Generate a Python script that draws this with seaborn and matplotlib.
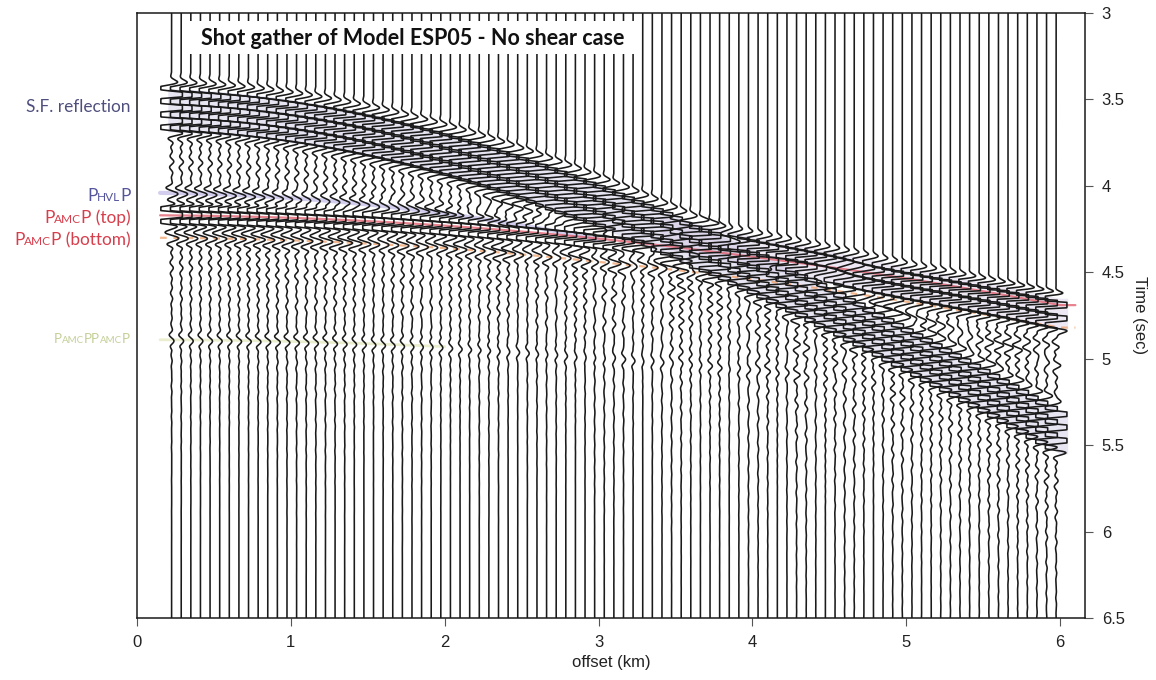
import numpy as np
import pandas as pd
import matplotlib
matplotlib.use("Agg")
import matplotlib.pyplot as plt
from matplotlib.patches import Rectangle
import seaborn as sns

# ---------------------------------------------------------------------------
# Picked arrivals: centre time (s) and relative amplitude at each offset (km)
# ---------------------------------------------------------------------------
pick_offset_km = [0.0, 1.0, 2.0, 3.0, 4.0, 5.0, 6.0]

sf_time_s = [3.555, 3.62, 3.81, 4.11, 4.49, 4.94, 5.42]       # seafloor reflection
sf_amp = [2.6, 2.6, 2.6, 2.5, 2.4, 2.3, 2.3]

refr_time_s = [3.67, 3.85, 4.03, 4.21, 4.39, 4.57, 4.75]     # crustal refraction
refr_amp = [0.0, 0.0, 0.0, 0.8, 2.2, 2.4, 2.5]

hvl_time_s = [4.04, 4.07, 4.16, 4.31, 4.51, 4.75, 5.03]      # P_HVL P
hvl_amp = [0.50, 0.50, 0.45, 0.40, 0.35, 0.35, 0.35]

amc_top_time_s = [4.17, 4.185, 4.23, 4.305, 4.41, 4.535, 4.69]  # P_AMC P (top)
amc_top_amp = [2.2, 2.1, 1.9, 1.7, 1.6, 1.6, 1.6]

amc_bot_time_s = [4.30, 4.315, 4.36, 4.44, 4.54, 4.67, 4.82]   # P_AMC P (bottom)
amc_bot_amp = [0.55, 0.55, 0.50, 0.45, 0.45, 0.45, 0.45]

amc_mult_time_s = [4.89, 4.90, 4.93, 4.99, 5.06, 5.15, 5.26]   # P_AMC PP_AMC P
amc_mult_amp = [0.22, 0.22, 0.18, 0.15, 0.12, 0.10, 0.10]

# receiver offsets of the gather
trace_offset_km = np.arange(0.225, 6.03, 0.0625)

x_ticks = [0, 1, 2, 3, 4, 5, 6]
t_ticks = [3, 3.5, 4, 4.5, 5, 5.5, 6, 6.5]

title_text = "Shot gather of Model ESP05 - No shear case"

# ---------------------------------------------------------------------------
FIG_W, FIG_H = 1156, 680
sns.set_theme(style="white")
plt.rcParams["font.family"] = ["Liberation Sans", "DejaVu Sans"]

fig = plt.figure(figsize=(FIG_W / 100, FIG_H / 100), dpi=100)
ax = fig.add_axes([137 / FIG_W, 1 - 618 / FIG_H, 948 / FIG_W, 605 / FIG_H])

pick_x = np.asarray(pick_offset_km)


def moveout(times, x):
    """Travel time along an arrival, interpolated in x^2 - t^2 space."""
    t2 = np.interp(np.square(x), np.square(pick_x), np.square(times))
    return np.sqrt(t2)


def amplitude(amps, x):
    return np.interp(x, pick_x, amps)


def wavelet(tau, width):
    """Flat-topped 13 Hz burst (first swing negative) plus a weak ringing tail."""
    env = np.exp(-(tau / width) ** 4)
    main = -np.sin(2 * np.pi * 13.0 * (tau + width)) * env
    after = np.clip(tau, 0, None)
    ramp = 1 - np.exp(-after / 0.06)
    tail = (0.13 * np.exp(-after / 0.30) * np.sin(2 * np.pi * 17.0 * after + 0.6)
            + 0.06 * np.exp(-after / 0.55) * np.sin(2 * np.pi * 11.0 * after)) * ramp
    return main + np.where(tau > 0, tail, 0.0)


arrivals = [
    (sf_time_s, sf_amp, 0.145),
    (refr_time_s, refr_amp, 0.11),
    (hvl_time_s, hvl_amp, 0.05),
    (amc_top_time_s, amc_top_amp, 0.06),
    (amc_bot_time_s, amc_bot_amp, 0.05),
    (amc_mult_time_s, amc_mult_amp, 0.05),
]

t = np.arange(3.0, 6.5001, 0.0015)
gain_km = 0.07      # horizontal excursion per unit amplitude
clip_level = 1.0    # wiggles are clipped at one unit

frames = []
for i, x0 in enumerate(trace_offset_km):
    s = np.zeros_like(t)
    for times, amps, width in arrivals:
        a = amplitude(amps, x0)
        if a <= 0:
            continue
        s += a * wavelet(t - moveout(times, x0), width)
    s = np.clip(s, -clip_level, clip_level)
    frames.append(pd.DataFrame({"trace": i, "time": t, "pos": x0 + gain_km * s}))
traces = pd.concat(frames, ignore_index=True)

# coloured arrival annotations beneath the wiggles
xg = np.linspace(0.2, 6.05, 400)
sf_c = moveout(sf_time_s, xg)
ax.fill_between(xg, sf_c - 0.12, sf_c + 0.13, color="#b9b0dc", alpha=0.32, lw=0, zorder=1)
xr = np.linspace(3.4, 6.05, 200)
rf_c = moveout(refr_time_s, xr)
ax.fill_between(xr, rf_c - 0.10, rf_c + 0.08, color="#c4b6d8", alpha=0.30, lw=0, zorder=1)
xh = np.linspace(0.15, 3.0, 200)
ax.plot(xh, moveout(hvl_time_s, xh), color="#a89fdc", lw=3, alpha=0.5, zorder=1.5)
xa = np.linspace(0.15, 6.1, 400)
ax.plot(xa, moveout(amc_top_time_s, xa), color="#e05a6a", lw=1.6, alpha=0.75, zorder=1.5)
ax.plot(xa, moveout(amc_bot_time_s, xa), color="#f0a06a", lw=1.6, alpha=0.75,
        ls=(0, (3, 3)), zorder=1.5)
xm = np.linspace(0.15, 2.0, 200)
ax.plot(xm, moveout(amc_mult_time_s, xm), color="#d8e0a0", lw=2, alpha=0.5, zorder=1.5)

sns.lineplot(data=traces, x="pos", y="time", units="trace", estimator=None,
             sort=False, orient="y", color="#1a1a1a", lw=1.15, ax=ax,
             legend=False, zorder=3)

ax.set_xlim(0, 948 / (1060 - 137) * 6)
ax.set_ylim(6.5, 3.0)

# title panel
ax.add_patch(Rectangle((0.325, 3.046), 3.264 - 0.325, 3.237 - 3.046,
                       facecolor="white", edgecolor="none", zorder=5))
ax.text((0.325 + 3.264) / 2, 3.146, title_text, ha="center", va="center",
        fontsize=15.5, fontweight="bold", family="Lato", color="#111111", zorder=6)

# axes and ticks
for side in ["left", "right", "top", "bottom"]:
    ax.spines[side].set_visible(True)
    ax.spines[side].set_color("#1a1a1a")
    ax.spines[side].set_linewidth(1.1)
ax.yaxis.tick_right()
ax.yaxis.set_label_position("right")
ax.set_xticks(x_ticks)
ax.set_xticklabels([str(v) for v in x_ticks])
ax.set_yticks(t_ticks)
ax.set_yticklabels([f"{v:g}" for v in t_ticks])
ax.tick_params(axis="both", direction="out", length=6, width=0.8, color="#555555",
               labelsize=12, labelcolor="#222222")
ax.tick_params(axis="x", pad=6, bottom=True, top=False)
ax.tick_params(axis="y", pad=6, right=True, left=False)
ax.set_xlabel("offset (km)", fontsize=12, color="#222222", labelpad=4)
ax.set_ylabel("Time (sec)", fontsize=12, color="#222222", rotation=-90, labelpad=16)
ax.grid(False)

# arrival names at the left of the gather
renderer = fig.canvas.get_renderer()


def stacked_label(pieces, right_px, baseline_px, color):
    x = right_px
    for text, size in reversed(pieces):
        txt = fig.text(x / FIG_W, 1 - baseline_px / FIG_H, text, ha="right",
                       va="baseline", fontsize=size, color=color, family="Lato")
        x -= txt.get_window_extent(renderer).width


stacked_label([("S.F. reflection", 12.4)], 131, 112, "#4f4f7e")
stacked_label([("P", 12.4), ("HVL", 8.6), ("P", 12.4)], 131, 201, "#55559c")
stacked_label([("P", 12.4), ("AMC", 8.6), ("P (top)", 12.4)], 131, 223, "#d63e4c")
stacked_label([("P", 12.4), ("AMC", 8.6), ("P (bottom)", 12.4)], 131, 245, "#d63e4c")
stacked_label([("P", 9.5), ("AMC", 7), ("PP", 9.5), ("AMC", 7), ("P", 9.5)],
              130, 343, "#c3cf95")

fig.savefig("out.png", dpi=100, facecolor="white")
